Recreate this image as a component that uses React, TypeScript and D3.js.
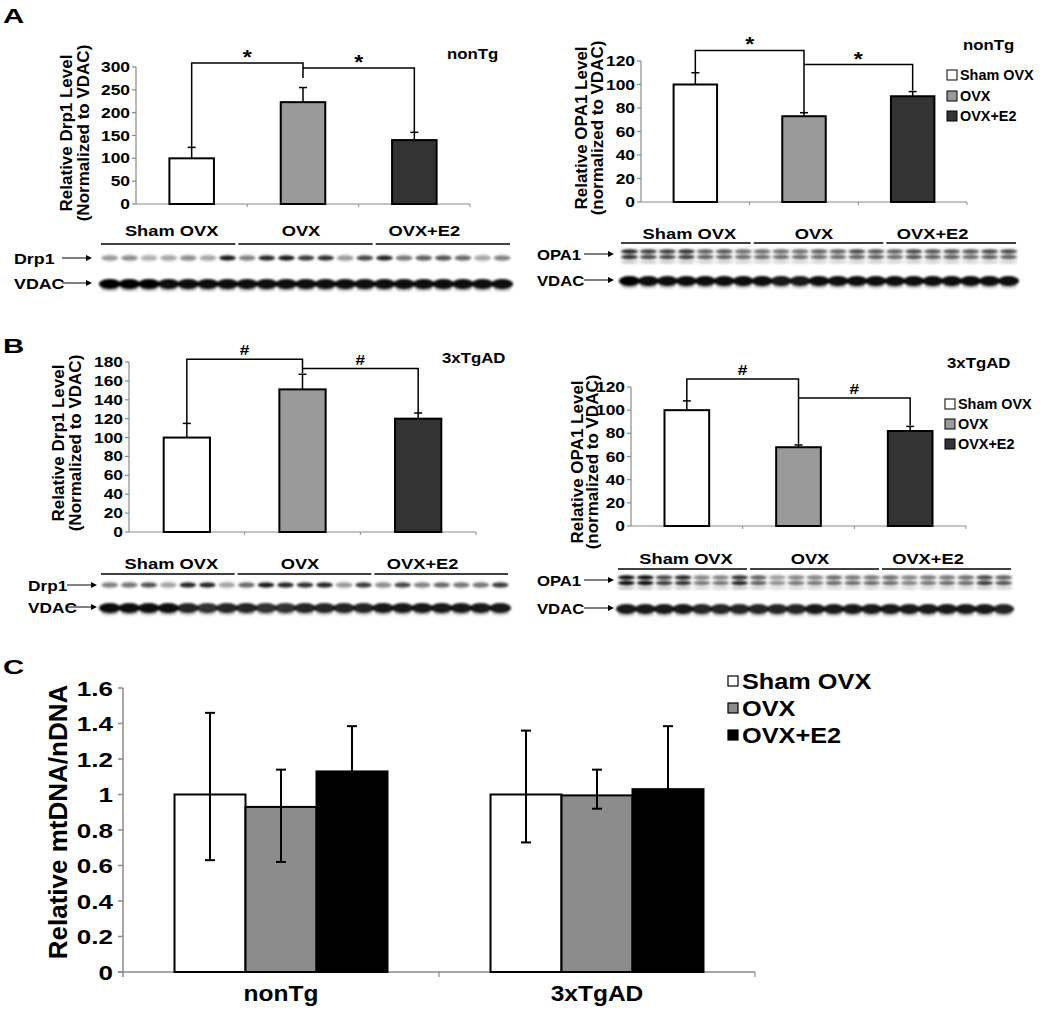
import React from "react";
import * as d3 from "d3";

const FONT = "'Liberation Sans', Arial, Helvetica, sans-serif";

const groups = ["Sham OVX", "OVX", "OVX+E2"];
const barFillsAB = ["#ffffff", "#9a9a9a", "#333333"];
const barFillsC = ["#ffffff", "#8c8c8c", "#000000"];

// Panel A (nonTg)
const drp1NonTgValues = [100, 223, 140];
const drp1NonTgErr = [24, 32, 17];
const drp1NonTgTicks = [0, 50, 100, 150, 200, 250, 300];
const drp1NonTgBrackets = [
  { a: 0, b: 1, top: 309, aEnd: 124, bEnd: 276, sym: "*" },
  { a: 1, b: 2, top: 298, aEnd: 298, bEnd: 157, sym: "*" },
];
const opa1NonTgValues = [100, 73, 90];
const opa1NonTgErr = [10, 3, 4];
const opa1Ticks = [0, 20, 40, 60, 80, 100, 120];
const opa1NonTgBrackets = [
  { a: 0, b: 1, top: 129, aEnd: 110, bEnd: 76, sym: "*" },
  { a: 1, b: 2, top: 117, aEnd: 117, bEnd: 95, sym: "*" },
];

// Panel B (3xTgAD)
const drp1TgValues = [100, 151, 120];
const drp1TgErr = [15, 16, 6];
const drp1TgTicks = [0, 20, 40, 60, 80, 100, 120, 140, 160, 180];
const drp1TgBrackets = [
  { a: 0, b: 1, top: 183, aEnd: 115, bEnd: 168, sym: "#" },
  { a: 1, b: 2, top: 173, aEnd: 173, bEnd: 126, sym: "#" },
];
const opa1TgValues = [100, 68, 82];
const opa1TgErr = [8, 2, 4];
const opa1TgBrackets = [
  { a: 0, b: 1, top: 127, aEnd: 108, bEnd: 71, sym: "#" },
  { a: 1, b: 2, top: 110.5, aEnd: 110.5, bEnd: 87, sym: "#" },
];

// Blot lane intensities (21 lanes: 7 per group)
const drp1BlotA = [0.35, 0.4, 0.25, 0.3, 0.4, 0.3, 0.9, 0.45, 0.85, 0.9, 0.75, 0.8, 0.35, 0.7, 0.85, 0.5, 0.6, 0.65, 0.55, 0.3, 0.45];
const vdacBlotA = [1, 1, 1, 0.95, 0.95, 0.95, 0.95, 0.95, 0.95, 0.95, 0.95, 0.95, 0.95, 0.95, 0.95, 0.95, 0.95, 0.95, 0.95, 0.95, 0.95];
const opa1TopBlotA = [0.85, 0.75, 0.75, 0.8, 0.6, 0.65, 0.55, 0.55, 0.55, 0.55, 0.6, 0.6, 0.7, 0.65, 0.6, 0.7, 0.65, 0.65, 0.65, 0.7, 0.7];
const opa1BotBlotA = [0.8, 0.7, 0.7, 0.75, 0.6, 0.6, 0.55, 0.55, 0.55, 0.55, 0.55, 0.55, 0.6, 0.6, 0.55, 0.65, 0.6, 0.6, 0.55, 0.6, 0.6];
const vdac2BlotA = [1, 0.95, 0.95, 0.95, 0.95, 0.95, 0.95, 0.95, 0.9, 0.9, 0.95, 0.95, 0.95, 0.95, 0.95, 0.95, 0.95, 0.95, 0.95, 0.95, 0.95];
const drp1BlotB = [0.45, 0.5, 0.65, 0.3, 0.85, 0.85, 0.3, 0.55, 0.9, 0.85, 0.8, 0.85, 0.35, 0.75, 0.4, 0.7, 0.45, 0.55, 0.5, 0.5, 0.75];
const vdacBlotB = [0.95, 0.95, 0.95, 0.95, 0.85, 0.8, 0.85, 0.85, 0.8, 0.8, 0.85, 0.85, 0.85, 0.85, 0.9, 0.9, 0.9, 0.9, 0.9, 0.9, 0.9];
const opa1TopBlotB = [0.95, 0.95, 0.7, 0.85, 0.45, 0.45, 0.8, 0.6, 0.35, 0.45, 0.45, 0.55, 0.5, 0.5, 0.55, 0.45, 0.5, 0.5, 0.55, 0.7, 0.6];
const opa1BotBlotB = [0.95, 0.95, 0.75, 0.8, 0.5, 0.5, 0.85, 0.6, 0.4, 0.5, 0.5, 0.55, 0.55, 0.55, 0.55, 0.45, 0.5, 0.55, 0.55, 0.75, 0.65];
const vdac2BlotB = [0.9, 0.9, 0.9, 0.9, 0.85, 0.85, 0.85, 0.85, 0.85, 0.85, 0.9, 0.9, 0.9, 0.9, 0.9, 0.9, 0.9, 0.9, 0.9, 0.9, 0.85];

// Panel C
const cCategories = ["nonTg", "3xTgAD"];
const mtNonTg = [1.0, 0.93, 1.13];
const mtNonTgLow = [0.63, 0.62, 0.87];
const mtNonTgHigh = [1.46, 1.14, 1.385];
const mtTg = [1.0, 0.995, 1.03];
const mtTgLow = [0.73, 0.92, 0.67];
const mtTgHigh = [1.36, 1.14, 1.385];
const cTicks = [0, 0.2, 0.4, 0.6, 0.8, 1, 1.2, 1.4, 1.6];

type Bracket = { a: number; b: number; top: number; aEnd: number; bEnd: number; sym: string };

// horizontally-stretched text (the reference's lettering is wide)
function T(p: { x: number; y: number; size: number; sx?: number; anchor?: string; children: React.ReactNode }) {
  return (
    <text transform={`translate(${p.x},${p.y}) scale(${p.sx ?? 1.2},1)`} textAnchor={p.anchor ?? "start"}
      fontSize={p.size} fontFamily={FONT} fontWeight="bold">{p.children}</text>
  );
}

function BarPanel(p: {
  ax: number; ax1: number; yTop: number; yBase: number; max: number; ticks: number[];
  values: number[]; errs: number[]; brackets: Bracket[]; label1: string; label2: string;
  lx1: number; lx2: number; lcy: number; tag: string; tagX: number; tagY: number;
  legend?: { x: number; ys: number[] };
}) {
  const x = d3.scaleBand<string>().domain(groups).range([p.ax, p.ax1]).paddingInner(0.6).paddingOuter(0.3);
  const y = d3.scaleLinear().domain([0, p.max]).range([p.yBase, p.yTop]);
  const cx = (i: number) => (x(groups[i]) as number) + x.bandwidth() / 2;
  const step = x.step();
  return (
    <g fontFamily={FONT} fontWeight="bold">
      <line x1={p.ax} x2={p.ax} y1={y(p.max)} y2={p.yBase} stroke="#8a8a8a" strokeWidth={1.2} />
      <line x1={p.ax} x2={p.ax1} y1={p.yBase} y2={p.yBase} stroke="#8a8a8a" strokeWidth={1.2} />
      {[1, 2, 3].map((i) => (
        <line key={i} x1={p.ax + step * i} x2={p.ax + step * i} y1={p.yBase} y2={p.yBase + 3} stroke="#8a8a8a" strokeWidth={1} />
      ))}
      {p.ticks.map((t) => (
        <g key={t}>
          <line x1={p.ax - 4} x2={p.ax} y1={y(t)} y2={y(t)} stroke="#8a8a8a" strokeWidth={1.2} />
          <T x={p.ax - 6} y={y(t) + 5} size={14.5} sx={1.2} anchor="end">{t}</T>
        </g>
      ))}
      {groups.map((g, i) => (
        <rect key={g} x={x(g)} y={y(p.values[i])} width={x.bandwidth()} height={p.yBase - y(p.values[i])}
          fill={barFillsAB[i]} stroke="#000" strokeWidth={2} />
      ))}
      {groups.map((g, i) => (
        <g key={g} stroke="#000" strokeWidth={1.5}>
          <line x1={cx(i)} x2={cx(i)} y1={y(p.values[i])} y2={y(p.values[i] + p.errs[i])} />
          <line x1={cx(i) - 4} x2={cx(i) + 4} y1={y(p.values[i] + p.errs[i])} y2={y(p.values[i] + p.errs[i])} />
        </g>
      ))}
      {p.brackets.map((b, k) => (
        <g key={k}>
          <polyline fill="none" stroke="#000" strokeWidth={1.5}
            points={`${cx(b.a)},${y(b.aEnd)} ${cx(b.a)},${y(b.top)} ${cx(b.b)},${y(b.top)} ${cx(b.b)},${y(b.bEnd)}`} />
          {b.sym === "*" ? (
            <T x={(cx(b.a) + cx(b.b)) / 2} y={y(b.top) + 1} size={21} sx={1.1} anchor="middle">*</T>
          ) : (
            <T x={(cx(b.a) + cx(b.b)) / 2} y={y(b.top) - 4} size={15} sx={1.15} anchor="middle">#</T>
          )}
        </g>
      ))}
      <text transform={`translate(${p.lx1},${p.lcy}) rotate(-90)`} textAnchor="middle" fontSize={17}>{p.label1}</text>
      <text transform={`translate(${p.lx2},${p.lcy}) rotate(-90)`} textAnchor="middle" fontSize={17}>{p.label2}</text>
      <T x={p.tagX} y={p.tagY} size={14} sx={1.2}>{p.tag}</T>
      {p.legend && groups.map((g, i) => (
        <g key={g}>
          <rect x={p.legend!.x} y={p.legend!.ys[i] - 5} width={10} height={10} fill={barFillsAB[i]} stroke="#000" strokeWidth={1} />
          <T x={p.legend!.x + 13} y={p.legend!.ys[i] + 5} size={14} sx={1.03}>{g}</T>
        </g>
      ))}
    </g>
  );
}

type Row = { name: string; y: number; kind: "thin" | "double" | "vdac"; data: number[]; data2?: number[] };

const groupLabelShift = [3, -5, -19];

function Blot(p: {
  x0: number; x1: number; rows: Row[]; labelY: number; lineY: number; labelX: number; arrowEnd: number;
  fontSize: number;
}) {
  const lanes = d3.range(21);
  const lx = d3.scaleBand<number>().domain(lanes).range([p.x0, p.x1]);
  const bw = lx.bandwidth();
  const lc = (i: number) => (lx(i) as number) + bw / 2;
  return (
    <g fontFamily={FONT} fontWeight="bold">
      {groups.map((g, gi) => {
        const a = lx(gi * 7) as number;
        const b = (lx(gi * 7 + 6) as number) + bw;
        return (
          <g key={g}>
            <line x1={a + 1} x2={b - 2} y1={p.lineY} y2={p.lineY} stroke="#000" strokeWidth={1.3} />
            <T x={(a + b) / 2 + groupLabelShift[gi]} y={p.labelY} size={15} sx={1.22} anchor="middle">{g}</T>
          </g>
        );
      })}
      {p.rows.map((r) => (
        <g key={r.name + r.y}>
          <T x={p.labelX} y={r.y + 6} size={p.fontSize} sx={1.15}>{r.name}</T>
          <line x1={p.arrowEnd - 30} x2={p.arrowEnd - 4} y1={r.y} y2={r.y} stroke="#000" strokeWidth={1} />
          <path d={`M${p.arrowEnd},${r.y} L${p.arrowEnd - 6},${r.y - 3} L${p.arrowEnd - 6},${r.y + 3} Z`} fill="#000" />
          <g filter="url(#blotBlur)">
            {r.kind === "vdac" && lanes.map((i) => (
              <g key={i}>
                <ellipse cx={lc(i)} cy={r.y + 1} rx={bw * 0.56} ry={5} fill="#000" fillOpacity={r.data[i]} />
                <ellipse cx={lc(i)} cy={r.y + 6} rx={bw * 0.45} ry={2.5} fill="#000" fillOpacity={r.data[i] * 0.25} />
              </g>
            ))}
            {r.kind === "thin" && lanes.map((i) => (
              <g key={i}>
                <ellipse cx={lc(i)} cy={r.y} rx={bw * 0.46} ry={4.5} fill="#000" fillOpacity={0.08} />
                <ellipse cx={lc(i)} cy={r.y} rx={bw * 0.42} ry={2.6} fill="#000" fillOpacity={r.data[i]} />
              </g>
            ))}
            {r.kind === "double" && lanes.map((i) => (
              <g key={i}>
                <rect x={lc(i) - bw * 0.5} y={r.y - 6} width={bw} height={16} fill="#000" fillOpacity={0.05} />
                <ellipse cx={lc(i)} cy={r.y - 2.5} rx={bw * 0.45} ry={2.2} fill="#000" fillOpacity={r.data[i]} />
                <ellipse cx={lc(i)} cy={r.y + 3} rx={bw * 0.45} ry={2.2} fill="#000" fillOpacity={r.data2 ? r.data2[i] : r.data[i]} />
                <ellipse cx={lc(i)} cy={r.y + 8} rx={bw * 0.42} ry={1.8} fill="#000" fillOpacity={(r.data2 ? r.data2[i] : r.data[i]) * 0.2} />
              </g>
            ))}
          </g>
        </g>
      ))}
    </g>
  );
}

function PanelC() {
  const ax = 123, ax1 = 755, yBase = 972, yTop = 688;
  const x0 = d3.scaleBand<string>().domain(cCategories).range([ax, ax1]).paddingInner(0.326).paddingOuter(0.163);
  const x1 = d3.scaleBand<string>().domain(groups).range([0, x0.bandwidth()]);
  const y = d3.scaleLinear().domain([0, 1.6]).range([yBase, yTop]);
  const series = [
    { cat: cCategories[0], v: mtNonTg, lo: mtNonTgLow, hi: mtNonTgHigh },
    { cat: cCategories[1], v: mtTg, lo: mtTgLow, hi: mtTgHigh },
  ];
  return (
    <g fontFamily={FONT} fontWeight="bold">
      <line x1={ax} x2={ax} y1={yTop} y2={yBase + 5} stroke="#8a8a8a" strokeWidth={1.5} />
      <line x1={ax - 5} x2={ax1} y1={yBase} y2={yBase} stroke="#8a8a8a" strokeWidth={1.5} />
      <line x1={ax + x0.step()} x2={ax + x0.step()} y1={yBase} y2={yBase + 5} stroke="#8a8a8a" strokeWidth={1.2} />
      <line x1={ax1} x2={ax1} y1={yBase} y2={yBase + 5} stroke="#8a8a8a" strokeWidth={1.2} />
      {cTicks.map((t) => (
        <g key={t}>
          <line x1={ax - 5} x2={ax} y1={y(t)} y2={y(t)} stroke="#8a8a8a" strokeWidth={1.5} />
          <T x={113} y={y(t) + 7.5} size={21} sx={1.24} anchor="end">{d3.format("~g")(t)}</T>
        </g>
      ))}
      {series.map((s) => (
        <g key={s.cat}>
          {groups.map((g, i) => {
            const bx = (x0(s.cat) as number) + (x1(g) as number);
            return (
              <rect key={g} x={bx} y={y(s.v[i])} width={x1.bandwidth()} height={yBase - y(s.v[i])}
                fill={barFillsC[i]} stroke="#000" strokeWidth={2} />
            );
          })}
          {groups.map((g, i) => {
            const c = (x0(s.cat) as number) + (x1(g) as number) + x1.bandwidth() / 2;
            return (
              <g key={g} stroke="#000" strokeWidth={2}>
                <line x1={c} x2={c} y1={y(s.lo[i])} y2={y(s.hi[i])} />
                <line x1={c - 5} x2={c + 5} y1={y(s.hi[i])} y2={y(s.hi[i])} />
                <line x1={c - 5} x2={c + 5} y1={y(s.lo[i])} y2={y(s.lo[i])} />
              </g>
            );
          })}
          <T x={(x0(s.cat) as number) + x0.bandwidth() / 2} y={1001} size={21.5} sx={1.14} anchor="middle">{s.cat}</T>
        </g>
      ))}
      <text transform={`translate(67,${(yTop + yBase) / 2 - 8}) rotate(-90)`} textAnchor="middle" fontSize={26}>Relative mtDNA/nDNA</text>
      {groups.map((g, i) => (
        <g key={g}>
          <rect x={728} y={676 + i * 27} width={10} height={10} fill={barFillsC[i]} stroke="#000" strokeWidth={1.2} />
          <T x={742} y={689 + i * 27} size={22} sx={1.15}>{g}</T>
        </g>
      ))}
    </g>
  );
}

export default function App() {
  return (
    <svg width={1050} height={1017} style={{ position: "absolute", left: 0, top: 0, background: "#fff" }}>
      <defs>
        <filter id="blotBlur" x="-5%" y="-50%" width="110%" height="200%">
          <feGaussianBlur stdDeviation="0.9" />
        </filter>
      </defs>
      <rect width={1050} height={1017} fill="#fff" />
      <T x={3} y={23} size={21} sx={1.4}>A</T>
      <T x={3} y={353} size={21} sx={1.4}>B</T>
      <T x={3} y={674} size={21} sx={1.4}>C</T>

      <BarPanel ax={136} ax1={470} yTop={67} yBase={204} max={300} ticks={drp1NonTgTicks}
        values={drp1NonTgValues} errs={drp1NonTgErr} brackets={drp1NonTgBrackets}
        label1="Relative Drp1 Level" label2="(Normalized to VDAC)" lx1={72} lx2={89} lcy={133}
        tag="nonTg" tagX={447} tagY={59} />
      <BarPanel ax={641} ax1={967} yTop={61} yBase={202} max={120} ticks={opa1Ticks}
        values={opa1NonTgValues} errs={opa1NonTgErr} brackets={opa1NonTgBrackets}
        label1="Relative OPA1 Level" label2="(normalized to VDAC)" lx1={587} lx2={603} lcy={128}
        tag="nonTg" tagX={963} tagY={50} legend={{ x: 947, ys: [75, 96, 116] }} />
      <BarPanel ax={129} ax1={476} yTop={362} yBase={532} max={180} ticks={drp1TgTicks}
        values={drp1TgValues} errs={drp1TgErr} brackets={drp1TgBrackets}
        label1="Relative Drp1 Level" label2="(Normalized to VDAC)" lx1={64} lx2={81} lcy={443}
        tag="3xTgAD" tagX={442} tagY={363} />
      <BarPanel ax={631} ax1={966} yTop={387} yBase={526} max={120} ticks={opa1Ticks}
        values={opa1TgValues} errs={opa1TgErr} brackets={opa1TgBrackets}
        label1="Relative OPA1 Level" label2="(normalized to VDAC)" lx1={583} lx2={598} lcy={462}
        tag="3xTgAD" tagX={947} tagY={368} legend={{ x: 945, ys: [404, 424, 444] }} />

      <Blot x0={100} x1={512} labelY={236} lineY={244} labelX={14} arrowEnd={92} fontSize={15.5}
        rows={[
          { name: "Drp1", y: 258, kind: "thin", data: drp1BlotA },
          { name: "VDAC", y: 283, kind: "vdac", data: vdacBlotA },
        ]} />
      <Blot x0={620} x1={1018} labelY={239} lineY={243} labelX={537} arrowEnd={614} fontSize={14.5}
        rows={[
          { name: "OPA1", y: 254, kind: "double", data: opa1TopBlotA, data2: opa1BotBlotA },
          { name: "VDAC", y: 280, kind: "vdac", data: vdac2BlotA },
        ]} />
      <Blot x0={100} x1={510} labelY={569} lineY={574} labelX={28} arrowEnd={97} fontSize={15}
        rows={[
          { name: "Drp1", y: 585, kind: "thin", data: drp1BlotB },
          { name: "VDAC", y: 607, kind: "vdac", data: vdacBlotB },
        ]} />
      <Blot x0={617} x1={1013} labelY={564} lineY={569} labelX={537} arrowEnd={614} fontSize={14.5}
        rows={[
          { name: "OPA1", y: 580, kind: "double", data: opa1TopBlotB, data2: opa1BotBlotB },
          { name: "VDAC", y: 608, kind: "vdac", data: vdac2BlotB },
        ]} />

      <PanelC />
    </svg>
  );
}
